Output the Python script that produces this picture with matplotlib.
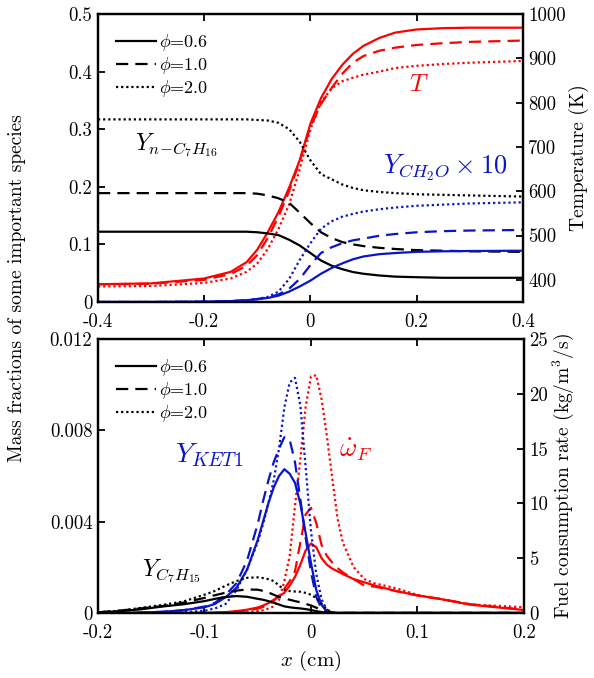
import numpy as np
import matplotlib
matplotlib.use("Agg")
import matplotlib.pyplot as plt
from matplotlib.lines import Line2D

plt.rcParams['font.family'] = ['cmr10', 'DejaVu Serif']
plt.rcParams['mathtext.fontset'] = 'cm'
plt.rcParams['axes.unicode_minus'] = False
plt.rcParams['axes.linewidth'] = 1.6

RED = '#ff0000'
BLUE = '#0a14c8'
DASH = (0, (5.5, 3.2))
DOT = (0, (1.0, 1.3))

# ---------------- top panel data ----------------
x_top = [-0.4, -0.3, -0.2, -0.15, -0.12, -0.1, -0.08, -0.06, -0.04, -0.02, 0.0,
         0.02, 0.04, 0.06, 0.08, 0.1, 0.13, 0.16, 0.2, 0.25, 0.3, 0.4]

# n-C7H16 mass fraction
yf_06 = [0.122, 0.122, 0.122, 0.122, 0.122, 0.121, 0.119, 0.116, 0.108, 0.098, 0.085,
         0.072, 0.063, 0.057, 0.052, 0.049, 0.046, 0.044, 0.043, 0.042, 0.042, 0.042]
yf_10 = [0.189, 0.189, 0.189, 0.189, 0.189, 0.188, 0.185, 0.180, 0.172, 0.155, 0.137,
         0.121, 0.111, 0.104, 0.100, 0.097, 0.094, 0.092, 0.090, 0.089, 0.088, 0.087]
yf_20 = [0.317, 0.317, 0.317, 0.317, 0.317, 0.316, 0.315, 0.311, 0.300, 0.278, 0.246,
         0.222, 0.213, 0.204, 0.198, 0.194, 0.191, 0.189, 0.187, 0.186, 0.185, 0.183]

# CH2O mass fraction x 10
ych2o_06 = [0.0, 0.0, 0.0005, 0.0015, 0.003, 0.005, 0.007, 0.011, 0.018, 0.027, 0.037,
            0.049, 0.059, 0.067, 0.074, 0.079, 0.083, 0.085, 0.087, 0.088, 0.0885, 0.089]
ych2o_10 = [0.0, 0.0, 0.0005, 0.0015, 0.003, 0.005, 0.008, 0.013, 0.023, 0.040, 0.064,
            0.085, 0.095, 0.102, 0.107, 0.110, 0.115, 0.118, 0.121, 0.123, 0.124, 0.125]
ych2o_20 = [0.0, 0.0, 0.0005, 0.0015, 0.003, 0.005, 0.009, 0.018, 0.040, 0.073, 0.102,
            0.127, 0.140, 0.148, 0.153, 0.157, 0.161, 0.164, 0.167, 0.169, 0.171, 0.173]

# temperature (K)
t_06 = [390, 392, 403, 418, 440, 468, 508, 553, 608, 670, 752,
        810, 853, 885, 910, 928, 946, 958, 965, 968, 969, 969]
t_10 = [390, 391, 400, 413, 432, 456, 495, 543, 600, 668, 745,
        797, 833, 865, 890, 905, 917, 924, 930, 934, 937, 940]
t_20 = [385, 386, 393, 403, 418, 437, 470, 515, 570, 650, 740,
        800, 832, 848, 856, 863, 870, 878, 883, 887, 890, 894]

# ---------------- bottom panel data ----------------
x_bot = [-0.2, -0.18, -0.16, -0.14, -0.12, -0.1, -0.09, -0.08, -0.07, -0.06, -0.05,
         -0.045, -0.04, -0.035, -0.03, -0.025, -0.02, -0.015, -0.01, -0.005, 0.0,
         0.005, 0.01, 0.015, 0.02, 0.025, 0.03, 0.04, 0.05, 0.06, 0.08, 0.1, 0.12,
         0.15, 0.2]

# KET1 mass fraction
yket_06 = [0.0, 0.0, 0.00002, 0.00005, 0.00012, 0.00025, 0.0004, 0.0007, 0.0011, 0.0019, 0.0032,
           0.0040, 0.0048, 0.0055, 0.0060, 0.0063, 0.0061, 0.0057, 0.0048, 0.0035, 0.0022,
           0.0010, 0.00035, 0.00006, 0.0, 0.0, 0.0, 0.0, 0.0, 0.0, 0.0, 0.0, 0.0,
           0.0, 0.0]
yket_10 = [0.0, 0.0, 0.00002, 0.00005, 0.00012, 0.00028, 0.00045, 0.0008, 0.0013, 0.0023, 0.0039,
           0.0049, 0.0058, 0.0066, 0.0072, 0.0077, 0.0076, 0.0066, 0.0050, 0.0033, 0.0018,
           0.0007, 0.00018, 0.00003, 0.0, 0.0, 0.0, 0.0, 0.0, 0.0, 0.0, 0.0, 0.0,
           0.0, 0.0]
yket_20 = [0.0, 0.0, 0.0, 0.00001, 0.00003, 0.0001, 0.0002, 0.0004, 0.0010, 0.0019, 0.0031,
           0.0039, 0.0048, 0.0058, 0.0072, 0.0090, 0.0101, 0.0103, 0.0091, 0.0064, 0.0036,
           0.0017, 0.0006, 0.00013, 0.00002, 0.0, 0.0, 0.0, 0.0, 0.0, 0.0, 0.0, 0.0,
           0.0, 0.0]

# C7H15 mass fraction
yc7h15_06 = [0.00002, 0.00008, 0.00016, 0.00028, 0.00038, 0.00052, 0.00062, 0.0007, 0.00074, 0.00071, 0.00062,
             0.00058, 0.00052, 0.00045, 0.00037, 0.00029, 0.00025, 0.00022, 0.0002, 0.00017, 0.00013,
             0.00008, 0.00004, 0.00001, 0.0, 0.0, 0.0, 0.0, 0.0, 0.0, 0.0, 0.0, 0.0,
             0.0, 0.0]
yc7h15_10 = [0.00003, 0.0001, 0.0002, 0.0003, 0.00045, 0.00066, 0.00078, 0.00089, 0.00098, 0.00103, 0.00102,
             0.00097, 0.0009, 0.0008, 0.0007, 0.00064, 0.00058, 0.00052, 0.00047, 0.0004, 0.00033,
             0.00023, 0.00012, 0.00004, 0.00001, 0.0, 0.0, 0.0, 0.0, 0.0, 0.0, 0.0, 0.0,
             0.0, 0.0]
yc7h15_20 = [0.00003, 0.0001, 0.00022, 0.00035, 0.0005, 0.0008, 0.00097, 0.0012, 0.0014, 0.00154, 0.00156,
             0.00153, 0.00148, 0.0014, 0.0012, 0.00102, 0.00096, 0.00094, 0.00093, 0.00088, 0.0008,
             0.00065, 0.0004, 0.00015, 0.00003, 0.0, 0.0, 0.0, 0.0, 0.0, 0.0, 0.0, 0.0,
             0.0, 0.0]

# fuel consumption rate (kg/m^3/s)
wf_06 = [0.0, 0.0, 0.0, 0.0, 0.0, 0.02, 0.04, 0.08, 0.17, 0.3, 0.5,
         0.68, 0.9, 1.2, 1.5, 1.85, 2.5, 3.3, 4.4, 5.7, 6.35,
         6.0, 5.0, 4.4, 4.05, 3.8, 3.55, 3.1, 2.8, 2.5, 2.0, 1.6, 1.3,
         0.75, 0.27]
wf_10 = [0.0, 0.0, 0.0, 0.0, 0.0, 0.02, 0.03, 0.06, 0.12, 0.22, 0.4,
         0.55, 0.8, 1.1, 1.6, 2.2, 2.9, 3.8, 6.4, 9.0, 9.6,
         8.2, 6.2, 5.2, 4.6, 4.1, 3.7, 3.1, 2.5, 2.4, 2.0, 1.6, 1.3,
         0.8, 0.3]
wf_20 = [0.0, 0.0, 0.0, 0.0, 0.0, 0.0, 0.01, 0.02, 0.05, 0.1, 0.18,
         0.25, 0.4, 0.6, 1.2, 2.9, 5.2, 9.8, 14.0, 18.8, 21.6,
         21.7, 19.5, 16.1, 12.3, 8.6, 6.4, 4.2, 3.1, 2.7, 2.25, 1.65, 1.3,
         0.78, 0.52]

phi_labels = [r'$\phi$=0.6', r'$\phi$=1.0', r'$\phi$=2.0']
styles = ['-', DASH, DOT]

top_xticks = [-0.4, -0.2, 0, 0.2, 0.4]
top_xticklabels = ['-0.4', '-0.2', '0', '0.2', '0.4']
top_yticks = [0, 0.1, 0.2, 0.3, 0.4, 0.5]
top_yticklabels = ['0', '0.1', '0.2', '0.3', '0.4', '0.5']
top_rticks = [400, 500, 600, 700, 800, 900, 1000]
bot_xticks = [-0.2, -0.1, 0, 0.1, 0.2]
bot_xticklabels = ['-0.2', '-0.1', '0', '0.1', '0.2']
bot_yticks = [0, 0.004, 0.008, 0.012]
bot_yticklabels = ['0', '0.004', '0.008', '0.012']
bot_rticks = [0, 5, 10, 15, 20, 25]

LW = 1.6
TICKFS = 13.5


def style_axes(ax, side):
    ax.tick_params(direction='in', length=5, width=1.3, labelsize=TICKFS, pad=4)
    if side == 'left':
        ax.tick_params(top=True, right=False)
        ax.tick_params(axis='x', pad=8)
    else:
        ax.tick_params(left=False, right=True)


fig = plt.figure(figsize=(5.94, 6.78), dpi=100)

# ------------ top panel -------------
ax1 = fig.add_axes([0.165, 0.5546, 0.715, 0.4248])
ax1r = ax1.twinx()
ax1.set_zorder(ax1r.get_zorder() + 1)
ax1.patch.set_visible(False)

for yf, ls in zip([yf_06, yf_10, yf_20], styles):
    ax1.plot(x_top, yf, color='black', linestyle=ls, linewidth=LW)
for yc, ls in zip([ych2o_06, ych2o_10, ych2o_20], styles):
    ax1.plot(x_top, yc, color=BLUE, linestyle=ls, linewidth=LW)
for t, ls in zip([t_06, t_10, t_20], styles):
    ax1r.plot(x_top, t, color=RED, linestyle=ls, linewidth=LW)

ax1.set_xlim(-0.4, 0.4)
ax1.set_ylim(0, 0.5)
ax1r.set_ylim(350, 1000)
ax1.set_xticks(top_xticks)
ax1.set_xticklabels(top_xticklabels)
ax1.set_yticks(top_yticks)
ax1.set_yticklabels(top_yticklabels)
ax1r.set_yticks(top_rticks)
style_axes(ax1, 'left')
style_axes(ax1r, 'right')
ax1r.set_ylabel('Temperature (K)', fontsize=14, labelpad=2)

ax1.text(0.087, 0.545, r'$Y_{n\!-\!C_7H_{16}}$', transform=ax1.transAxes,
         fontsize=17, va='center', ha='left')
ax1.text(0.733, 0.753, r'$T$', transform=ax1.transAxes, color=RED,
         fontsize=18, va='center', ha='left')
ax1.text(0.672, 0.465, r'$Y_{CH_2O}\times 10$', transform=ax1.transAxes, color=BLUE,
         fontsize=19, va='center', ha='left')

# ------------ bottom panel -------------
ax2 = fig.add_axes([0.165, 0.0959, 0.717, 0.404])
ax2r = ax2.twinx()
ax2.set_zorder(ax2r.get_zorder() + 1)
ax2.patch.set_visible(False)

for yk, ls in zip([yket_06, yket_10, yket_20], styles):
    ax2.plot(x_bot, yk, color=BLUE, linestyle=ls, linewidth=LW)
for yc, ls in zip([yc7h15_06, yc7h15_10, yc7h15_20], styles):
    ax2.plot(x_bot, yc, color='black', linestyle=ls, linewidth=LW)
for w, ls in zip([wf_06, wf_10, wf_20], styles):
    ax2r.plot(x_bot, w, color=RED, linestyle=ls, linewidth=LW)

ax2.set_xlim(-0.2, 0.2)
ax2.set_ylim(0, 0.012)
ax2r.set_ylim(0, 25)
ax2.set_xticks(bot_xticks)
ax2.set_xticklabels(bot_xticklabels)
ax2.set_yticks(bot_yticks)
ax2.set_yticklabels(bot_yticklabels)
ax2r.set_yticks(bot_rticks)
style_axes(ax2, 'left')
style_axes(ax2r, 'right')
ax2r.set_ylabel(r'Fuel consumption rate (kg/m$^3$/s)', fontsize=14, labelpad=2)

ax2.text(0.181, 0.577, r'$Y_{KET1}$', transform=ax2.transAxes, color=BLUE,
         fontsize=20, va='center', ha='left')
ax2.text(0.566, 0.595, r'$\dot{\omega}_F$', transform=ax2.transAxes, color=RED,
         fontsize=19, va='center', ha='left')
ax2.text(0.103, 0.153, r'$Y_{C_7H_{15}}$', transform=ax2.transAxes,
         fontsize=17, va='center', ha='left')

# legends (black proxies)
for ax in (ax1, ax2):
    handles = [Line2D([], [], color='black', linestyle=ls, linewidth=LW) for ls in styles]
    ax.legend(handles, phi_labels, loc='upper left', frameon=False, fontsize=13,
              handlelength=2.2, handletextpad=0.2, labelspacing=0.12,
              borderaxespad=0.5, borderpad=0.5)

fig.text(0.028, 0.575, 'Mass fractions of some important species', rotation=90,
         fontsize=14, va='center', ha='center')
fig.text(0.524, 0.025, r'$x$ (cm)', fontsize=15, va='center', ha='center')

fig.savefig('out.png', dpi=100)
